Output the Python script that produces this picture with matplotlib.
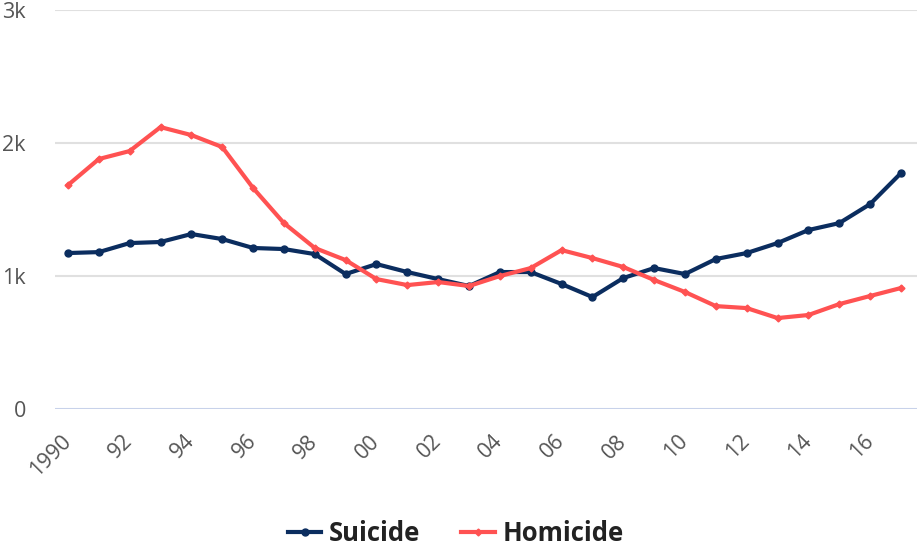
import matplotlib
matplotlib.use('Agg')
import matplotlib.pyplot as plt

plt.rcParams['font.family'] = ['Open Sans', 'DejaVu Sans']

years = list(range(1990, 2018))
suicide = [1173, 1180, 1248, 1256, 1316, 1278, 1211, 1203, 1165, 1015,
           1090, 1030, 977, 925, 1030, 1030, 940, 842, 985, 1060,
           1015, 1128, 1173, 1248, 1346, 1398, 1541, 1774]
homicide = [1684, 1880, 1940, 2120, 2060, 1970, 1662, 1398, 1211, 1120,
            977, 932, 955, 925, 1000, 1060, 1195, 1135, 1068, 970,
            880, 774, 759, 684, 707, 789, 850, 910]
tick_years = list(range(1990, 2018, 2))
tick_labels = ['1990'] + [f'{y % 100:02d}' for y in tick_years[1:]]
y_ticks = [0, 1000, 2000, 3000]
y_labels = ['0', '1k', '2k', '3k']

fig = plt.figure(figsize=(9.17, 5.45), dpi=100)
ax = fig.add_axes([0.060, 0.2495, 0.940, 0.732])

ax.plot(years, suicide, color='#0b2d5f', lw=3, marker='o', ms=5, label='Suicide', zorder=3)
ax.plot(years, homicide, color='#ff5252', lw=3, marker='D', ms=3.5, label='Homicide', zorder=3)

ax.set_xlim(1989.58, 2017.52)
ax.set_ylim(0, 3000)
ax.set_yticks(y_ticks)
ax.set_yticklabels(y_labels)
ax.set_xticks(tick_years)
ax.set_xticklabels(tick_labels, rotation=45, ha='right', va='center', rotation_mode='anchor')

for s in ax.spines.values():
    s.set_visible(False)
for v in y_ticks[1:]:
    ax.axhline(v, color='#e0e0e0', lw=1.5, zorder=1)
ax.axhline(0, color='#c8d2ea', lw=1.5, zorder=1)

ax.tick_params(axis='both', length=0, labelsize=15.5, labelcolor='#555555')
ax.tick_params(axis='y', pad=21)
ax.tick_params(axis='x', pad=21)

leg = ax.legend(loc='center', bbox_to_anchor=(0.465, -0.311), ncol=2, frameon=False,
                prop={'weight': 'bold', 'size': 18.5}, handlelength=1.3, columnspacing=1.6,
                handletextpad=0.3, borderpad=0)
for t in leg.get_texts():
    t.set_color('#222222')

fig.savefig('out.png', dpi=100)
